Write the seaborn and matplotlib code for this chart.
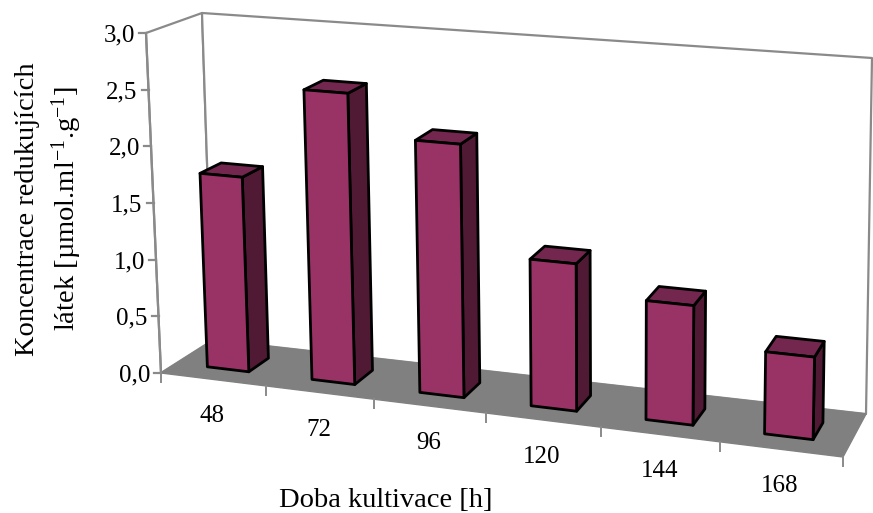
import numpy as np
import pandas as pd
import matplotlib
matplotlib.use("Agg")
import matplotlib.pyplot as plt
import seaborn as sns
from matplotlib.patches import Polygon, Rectangle
from matplotlib.lines import Line2D
from matplotlib.transforms import Transform, IdentityTransform

# ---- data -------------------------------------------------------------
hours = ["48", "72", "96", "120", "144", "168"]
concentration = [1.72, 2.54, 2.18, 1.25, 1.00, 0.68]
y_ticks = [0.0, 0.5, 1.0, 1.5, 2.0, 2.5, 3.0]
y_tick_labels = ["0,0", "0,5", "1,0", "1,5", "2,0", "2,5", "3,0"]
x_title = "Doba kultivace [h]"
y_title_lines = ["Koncentrace redukujících", r"látek [µmol.ml$^{-1}$.g$^{-1}$]"]

# ---- styling ----------------------------------------------------------
FRONT = "#993366"
SIDE = "#501a34"
TOP = "#74274e"
FLOOR = "#808080"
FRAME = "#8a8a8a"
BAR_WIDTH = 0.4
DEPTH_FRONT, DEPTH_BACK = 0.3, 0.7
Y_MAX = 3.0

W, H = 873, 513
plt.rcParams["font.family"] = ["Liberation Serif", "DejaVu Serif"]
plt.rcParams["mathtext.fontset"] = "custom"
plt.rcParams["mathtext.rm"] = "Liberation Serif"
plt.rcParams["mathtext.default"] = "regular"

# pixel positions (y downwards) of the 3-D plot box corners, key = (right, top, back)
BOX = {
    (0, 0, 0): (161, 373), (0, 1, 0): (146, 33),
    (0, 0, 1): (213, 340), (0, 1, 1): (202, 13),
    (1, 0, 0): (843, 457), (1, 1, 0): (851, 87),
    (1, 0, 1): (866, 414), (1, 1, 1): (872, 58),
}
PERSP = 0.09  # foreshortening along the category axis
n = len(hours)
X0, X1 = -0.5, n - 0.5


def project(X, Y, Z):
    """Map (category position, value, depth 0..1) to display pixels."""
    X, Y, Z = np.broadcast_arrays(np.asarray(X, float), np.asarray(Y, float),
                                  np.asarray(Z, float))
    u = (X - X0) / (X1 - X0)
    u = u * (1 - PERSP) / (1 - PERSP * u)
    v = Y / Y_MAX
    w = Z
    px = np.zeros(u.shape)
    py = np.zeros(u.shape)
    for (a, b, c), (cx, cy) in BOX.items():
        wt = (u if a else 1 - u) * (v if b else 1 - v) * (w if c else 1 - w)
        px += wt * cx
        py += wt * cy
    return px, H - py


class DepthPlane(Transform):
    """Data (category, value) drawn on a plane at a fixed depth."""
    input_dims = 2
    output_dims = 2
    is_separable = False
    has_inverse = False

    def __init__(self, plane_z):
        super().__init__()
        self.plane_z = plane_z

    def transform_non_affine(self, values):
        values = np.asarray(values, float)
        x, y = project(values[:, 0], values[:, 1], self.plane_z)
        return np.column_stack([x, y])


def face(ax, pts, **kw):
    arr = np.array(pts, float)
    x, y = project(arr[:, 0], arr[:, 1], arr[:, 2])
    poly = Polygon(np.column_stack([x, y]), closed=True,
                   transform=IdentityTransform(), clip_on=False, **kw)
    ax.add_patch(poly)
    return poly


def line3d(ax, pts, **kw):
    arr = np.array(pts, float)
    x, y = project(arr[:, 0], arr[:, 1], arr[:, 2])
    ax.add_line(Line2D(x, y, transform=IdentityTransform(), clip_on=False, **kw))


fig = plt.figure(figsize=(W / 100, H / 100), dpi=100)
ax = fig.add_axes([0, 0, 1, 1])
ax.set_axis_off()

df = pd.DataFrame({"hours": hours, "conc": concentration})
sns.barplot(data=df, x="hours", y="conc", width=BAR_WIDTH, color=FRONT,
            saturation=1, edgecolor="black", linewidth=2.0, ax=ax)
bars = [p for p in ax.patches if isinstance(p, Rectangle)]

# walls and floor
frame_kw = dict(edgecolor=FRAME, linewidth=1.6, joinstyle="round")
face(ax, [(X0, 0, 0), (X0, Y_MAX, 0), (X0, Y_MAX, 1), (X0, 0, 1)],
     facecolor="white", zorder=1, **frame_kw)
face(ax, [(X0, 0, 1), (X1, 0, 1), (X1, Y_MAX, 1), (X0, Y_MAX, 1)],
     facecolor="white", zorder=1, **frame_kw)
face(ax, [(X0, 0, 0), (X1, 0, 0), (X1, 0, 1), (X0, 0, 1)],
     facecolor=FLOOR, edgecolor=FLOOR, linewidth=1.0, zorder=1.5)
line3d(ax, [(X0, 0, 0), (X0, Y_MAX, 0)], color=FRAME, linewidth=1.6, zorder=1.6)

# value axis ticks and labels on the front-left edge
for yv, lab in zip(y_ticks, y_tick_labels):
    sx, sy = project(X0, yv, 0)
    sx, sy = float(sx), float(sy)
    ax.add_line(Line2D([sx - 7, sx], [sy, sy], color=FRAME, linewidth=1.6,
                       transform=IdentityTransform(), clip_on=False))
    ax.text(sx - 11, sy - 8.5, lab, transform=IdentityTransform(),
            ha="right", va="baseline", fontsize=18, color="black")

# category ticks and labels along the front edge of the floor
for b in np.arange(X0, X1 + 0.01, 1.0):
    bx, by = project(b, 0, 0)
    bx, by = float(bx), float(by)
    ax.add_line(Line2D([bx, bx], [by, by - 9], color=FRAME, linewidth=1.4,
                       transform=IdentityTransform(), clip_on=False))
for i, lab in enumerate(hours):
    cx, cy = project(i, 0, 0)
    ax.text(float(cx) - 1, float(cy) - 43, lab, transform=IdentityTransform(),
            ha="center", va="baseline", fontsize=18, color="black")

# bars: the front faces come from seaborn, sides and tops follow their geometry
for p in bars:
    x0, w, h = p.get_x(), p.get_width(), p.get_height()
    xr = x0 + w
    face(ax, [(xr, 0, DEPTH_FRONT), (xr, 0, DEPTH_BACK), (xr, h, DEPTH_BACK),
              (xr, h, DEPTH_FRONT)], facecolor=SIDE, edgecolor="black",
         linewidth=2.0, joinstyle="round", zorder=3)
    face(ax, [(x0, h, DEPTH_FRONT), (xr, h, DEPTH_FRONT), (xr, h, DEPTH_BACK),
              (x0, h, DEPTH_BACK)], facecolor=TOP, edgecolor="black",
         linewidth=2.0, joinstyle="round", zorder=3)
    p.set_transform(DepthPlane(DEPTH_FRONT))
    p.set_clip_on(False)
    p.set_joinstyle("round")
    p.set_zorder(4)

# axis titles
fig.text(386 / W, 1 - 507 / H, x_title, ha="center", va="baseline", fontsize=20.5)
for bx, txt in zip([34, 75], y_title_lines):
    fig.text(bx / W, 1 - 209 / H, txt, rotation=90, rotation_mode="anchor",
             ha="center", va="baseline", fontsize=20.5)

fig.savefig("out.png", dpi=100)
